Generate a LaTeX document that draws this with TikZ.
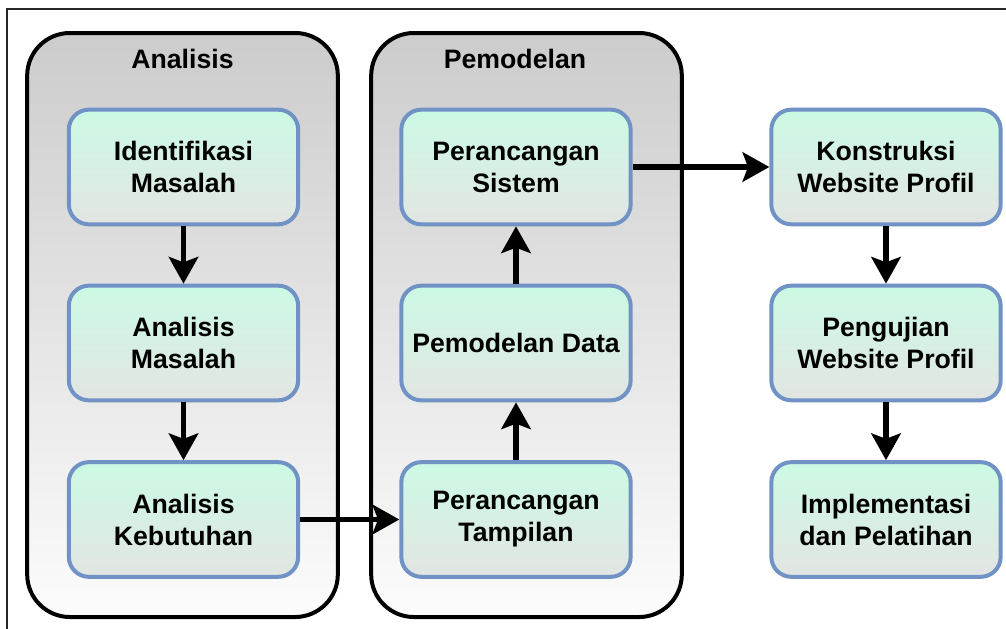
\documentclass[tikz,border=0pt]{standalone}
\usepackage{fontspec}
\setmainfont{Liberation Sans}
\usetikzlibrary{arrows.meta}
\definecolor{boxtop}{RGB}{204,250,228}
\definecolor{boxbot}{RGB}{226,229,227}
\definecolor{boxline}{RGB}{112,146,196}
\definecolor{grptop}{RGB}{204,204,204}
\definecolor{grpbot}{RGB}{252,252,252}
\begin{document}
\begin{tikzpicture}[x=0.75pt,y=-0.75pt,
  stepbox/.style={draw=boxline, line width=3pt, rounded corners=15pt,
    top color=boxtop, bottom color=boxbot,
    minimum width=172pt, minimum height=86pt, align=center, inner sep=0pt,
    font=\bfseries\fontsize{20}{24}\selectfont},
  group/.style={draw=black, line width=3pt, rounded corners=32pt,
    top color=grptop, bottom color=grpbot,
    minimum width=233pt, minimum height=438pt, inner sep=0pt},
  grouptitle/.style={font=\bfseries\fontsize{20}{24}\selectfont, inner sep=0pt},
  flow/.style={line width=4pt, -{Stealth[length=20pt,width=22pt,inset=4pt]}}]
\useasboundingbox (0,0) rectangle (1006,628);
\fill[white] (0,0) rectangle (1006,628);
% outer frame
\draw[line width=1.5pt, black!85] (7,640) -- (7,9) -- (1020,9);
% groups
\node[group] (g1) at (182.5,325) {};
\node[group] (g2) at (526.5,325) {};
\node[grouptitle] (t1) at (182.5,59) {Analisis};
\node[grouptitle] (t2) at (515,59) {Pemodelan};
% column 1
\node[stepbox] (a1) at (183.5,167) {Identifikasi\\Masalah};
\node[stepbox] (a2) at (183.5,343) {Analisis\\Masalah};
\node[stepbox] (a3) at (183.5,519.5) {Analisis\\Kebutuhan};
% column 2
\node[stepbox] (b1) at (516,167) {Perancangan\\Sistem};
\node[stepbox] (b2) at (516,343) {Pemodelan Data};
\node[stepbox] (b3) at (516,519.5) {Perancangan\\Tampilan};
% column 3
\node[stepbox] (c1) at (886,167) {Konstruksi\\Website Profil};
\node[stepbox] (c2) at (886,343) {Pengujian\\Website Profil};
\node[stepbox] (c3) at (886,519.5) {Implementasi\\dan Pelatihan};
% arrows
\draw[flow] (a1) -- (a2);
\draw[flow] (a2) -- (a3);
\draw[flow] (a3) -- (b3);
\draw[flow] (b3) -- (b2);
\draw[flow] (b2) -- (b1);
\draw[flow] (b1) -- (c1);
\draw[flow] (c1) -- (c2);
\draw[flow] (c2) -- (c3);
\end{tikzpicture}
\end{document}
